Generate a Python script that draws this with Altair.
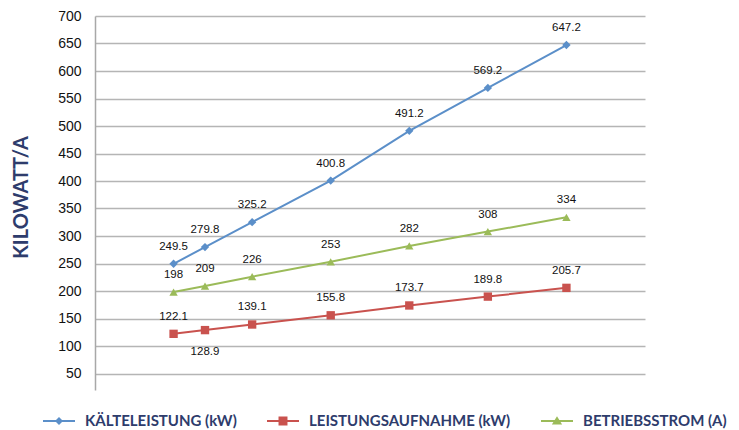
import altair as alt
import pandas as pd

# hidden x positions (models), series values
x_pos = [1, 1.4, 2, 3, 4, 5, 6]
kaelte = [249.5, 279.8, 325.2, 400.8, 491.2, 569.2, 647.2]
leistung = [122.1, 128.9, 139.1, 155.8, 173.7, 189.8, 205.7]
strom = [198, 209, 226, 253, 282, 308, 334]
series_names = ["KÄLTELEISTUNG (kW)", "LEISTUNGSAUFNAHME (kW)", "BETRIEBSSTROM (A)"]
series_colors = ["#5b8fc9", "#c9524e", "#9bbb59"]
series_shapes = ["diamond", "square", "triangle-up"]
labels_below = ["128.9"]
y_ticks = list(range(50, 701, 50))

rows = []
for name, vals in zip(series_names, [kaelte, leistung, strom]):
    for xv, v in zip(x_pos, vals):
        rows.append({"x": xv, "y": v, "series": name, "label": str(v)})
df = pd.DataFrame(rows)

NAVY = "#2e3c6c"

# legend symbols: a line with the marker on it (all subpaths clockwise)
bar = "M-1,-0.06L1,-0.06L1,0.06L-1,0.06Z"
legend_paths = [
    bar + "M0,-0.25L0.25,0L0,0.25L-0.25,0Z",
    bar + "M-0.28,-0.28L0.28,-0.28L0.28,0.28L-0.28,0.28Z",
    bar + "M0,-0.3L0.32,0.22L-0.32,0.22Z",
]

legend = alt.Legend(
    title=None,
    orient="none",
    direction="horizontal",
    legendX=-52,
    legendY=389,
    symbolSize=1024,
    symbolOpacity=1,
    symbolStrokeWidth=0,
    labelOffset=10,
    columnPadding=30,
    labelFont="Lato",
    labelFontWeight="bold",
    labelFontSize=15,
    labelColor=NAVY,
    labelLimit=400,
)

x_enc = alt.X("x:Q", scale=alt.Scale(domain=[0, 7]), axis=None)
y_enc = alt.Y(
    "y:Q",
    scale=alt.Scale(domain=[20, 700], nice=False, zero=False),
    axis=alt.Axis(
        values=y_ticks,
        title="KILOWATT/A",
        titleFont="Lato",
        titleFontWeight="bold",
        titleFontSize=20,
        titleColor=NAVY,
        titleX=-74,
        titleY=181,
        titleAngle=270,
        titleAlign="center",
        titleBaseline="middle",
        labelFont="Liberation Sans",
        labelFontSize=14,
        labelColor="#111111",
        labelPadding=14,
        ticks=False,
        tickSize=0,
        grid=True,
        gridColor="#b5b5b5",
        gridWidth=1.5,
        domain=True,
        domainColor="#a8a8a8",
        domainWidth=1.5,
    ),
)
color_enc = alt.Color(
    "series:N",
    scale=alt.Scale(domain=series_names, range=series_colors),
    legend=legend,
)

base = alt.Chart(df)
lines = base.mark_line(strokeWidth=2).encode(x=x_enc, y=y_enc, color=color_enc, detail="series:N")

point_layers = []
for name, shp in zip(series_names, series_shapes):
    point_layers.append(
        base.transform_filter(alt.datum.series == name)
        .mark_point(filled=True, opacity=1, size=70, shape=shp)
        .encode(x=x_enc, y=y_enc, color=color_enc)
    )

legend_layer = base.mark_point(filled=True, opacity=0).encode(
    x=x_enc,
    y=y_enc,
    color=color_enc,
    shape=alt.Shape("series:N", scale=alt.Scale(domain=series_names, range=legend_paths), legend=legend),
)
text_style = dict(font="Liberation Sans", fontSize=11.5, color="#111111", baseline="middle", align="center")
labels_above = base.transform_filter(
    ~alt.FieldOneOfPredicate(field="label", oneOf=labels_below)
).mark_text(dy=-17, **text_style).encode(x=x_enc, y=y_enc, text="label:N")
labels_bel = base.transform_filter(
    alt.FieldOneOfPredicate(field="label", oneOf=labels_below)
).mark_text(dy=22, **text_style).encode(x=x_enc, y=y_enc, text="label:N")

chart = (
    alt.layer(lines, *point_layers, legend_layer, labels_above, labels_bel)
    .properties(
        width=550,
        height=374,
        autosize=alt.AutoSizeParams(type="none"),
        padding={"left": 87, "top": 8, "right": 86, "bottom": 40},
        background="white",
    )
    .configure_view(stroke=None)
)

chart.save("out.html", embed_options={"renderer": "svg", "actions": False})
